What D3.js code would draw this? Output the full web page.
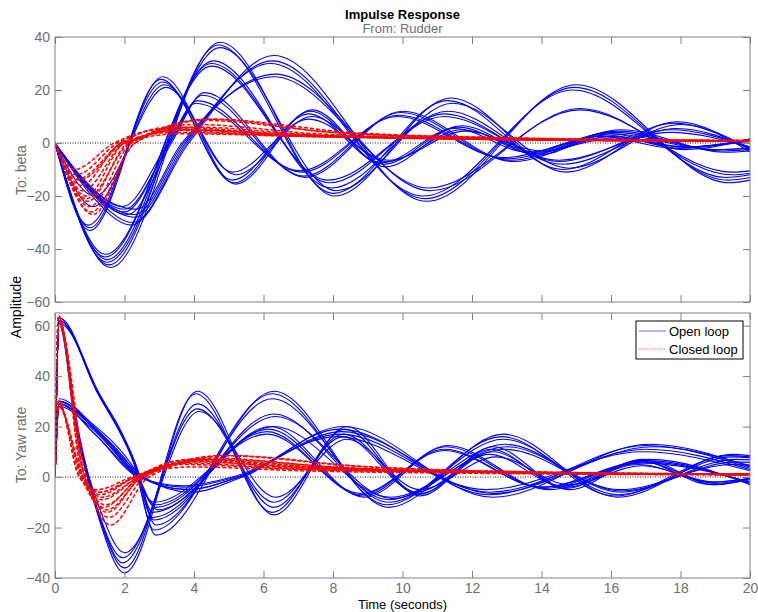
<!DOCTYPE html>
<html><head><meta charset="utf-8">
<script src="https://cdn.jsdelivr.net/npm/d3@7"></script>
<style>body{margin:0;background:#fff} text{font-family:"Liberation Sans",Arial,Helvetica,sans-serif}</style>
</head><body><svg id="c" width="758" height="612"></svg>
<script>
// ---- tick labels ----
const timeTicks = [0,2,4,6,8,10,12,14,16,18,20];
const betaTicks = [-60,-40,-20,0,20,40];
const yawTicks = [-40,-20,0,20,40,60];

// ---- To: beta, open loop (extrema [time, amplitude]) ----
const betaOpenP = [
 [[0,0],[1.0,-33],[3.1,25],[5.2,-15.5],[7.4,12.5],[9.5,-9],[11.7,6.5],[13.9,-4.5],[16.0,3.5],[18.1,-2.5],[20,1.5]],
 [[0,0],[1.0,-32],[3.05,24],[5.15,-15],[7.35,12],[9.45,-8],[11.6,6],[13.8,-4],[15.9,3],[18.0,-2],[20,1.3]],
 [[0,0],[0.95,-31],[3.1,23],[5.1,-14],[7.3,11],[9.4,-7.5],[11.5,5.5],[13.6,-3.5],[15.7,2.5],[17.8,-2],[20,1.5]],
 [[0,0],[1.1,-24],[3.15,22],[5.2,-12],[7.4,10],[9.55,-7],[11.7,5],[13.9,-3.5],[16.0,2.5],[18.1,-1.5],[20,1]],
 [[0,0],[1.15,-20],[3.2,21],[5.1,-11],[7.3,9],[9.6,-6.5],[11.8,4.5],[14.0,-3],[16.1,2],[18.2,-1.5],[20,0.8]]
];
const betaOpenQ = [
 [[0,0],[1.6,-47],[4.75,38],[8.05,-20],[11.4,17],[14.7,-11],[17.9,8],[20,-3.4]],
 [[0,0],[1.55,-46],[4.7,37],[8.0,-19],[11.3,16],[14.6,-10],[17.8,7.5],[20,-2.5]],
 [[0,0],[1.5,-45],[4.75,36],[8.1,-18],[11.45,15],[14.8,-9.5],[18.0,7],[20,-2]],
 [[0,0],[1.5,-44],[4.55,31],[7.95,-17],[11.3,12],[14.6,-8],[17.9,5.5],[20,-2]],
 [[0,0],[1.45,-43],[4.5,30],[7.9,-15],[11.2,11],[14.5,-7],[17.7,5],[20,-1.5]],
 [[0,0],[1.45,-42],[4.5,29],[7.85,-14],[11.2,10],[14.5,-6.5],[17.7,4],[20,-1.5]]
];
const betaOpenR = [
 [[0,0],[1.0,-19],[2.2,-31],[3.85,0],[6.3,33],[10.7,-22],[15.0,22],[19.4,-15],[20,-14]],
 [[0,0],[1.0,-18],[2.25,-30],[3.8,0],[6.25,31],[10.65,-21],[14.95,21],[19.35,-14],[20,-13]],
 [[0,0],[1.0,-18],[2.3,-28],[3.75,0],[6.2,30],[10.6,-20],[14.9,20],[19.3,-13],[20,-12]],
 [[0,0],[0.95,-17],[2.3,-27],[3.7,0],[6.35,26],[10.8,-18],[15.1,13],[19.5,-12],[20,-11.5]],
 [[0,0],[0.95,-16],[2.35,-25],[3.65,0],[6.3,25],[10.75,-17],[15.1,12.5],[19.5,-11],[20,-10.5]]
];
const betaOpenS = [
 [[0,0],[0.9,-16],[2.1,-27],[3.35,0],[4.3,19],[7.2,-13],[10.0,12],[13.2,-7],[16.3,5],[19.3,-3.5],[20,-3]],
 [[0,0],[0.9,-15],[2.0,-26],[3.3,0],[4.25,18],[7.15,-12.5],[9.95,11.5],[13.1,-6.5],[16.2,4.5],[19.2,-3],[20,-2.5]],
 [[0,0],[0.85,-15],[2.0,-25],[3.3,0],[4.1,16],[7.1,-11],[9.9,10.5],[13.0,-6],[16.1,4],[19.1,-2.5],[20,-2]],
 [[0,0],[0.85,-14],[1.95,-24],[3.25,0],[4.05,15],[7.05,-10.5],[9.85,10],[12.9,-5.5],[16.0,3.5],[19.0,-2.5],[20,-2]]
];
// ---- To: beta, closed loop ----
const betaClosed = [
 [[0,0],[0.55,-10],[1.7,0],[3.0,5],[6,3],[10,1.8],[15,1],[20,0.6]],
 [[0,0],[0.6,-12],[1.8,0],[3.2,5.5],[6.5,3],[10,2],[15,1.2],[20,0.7]],
 [[0,0],[0.65,-13.5],[1.9,0],[3.3,6],[6.5,3.5],[10,2],[15,1.2],[20,0.8]],
 [[0,0],[0.7,-14],[2.0,0],[3.6,3.5],[7,2.5],[12,1.5],[20,0.6]],
 [[0,0],[0.9,-20],[2.0,0],[3.8,5],[7,3],[12,1.5],[20,0.7]],
 [[0,0],[0.95,-22],[2.1,0],[4.0,6],[7.5,3],[12,1.6],[20,0.8]],
 [[0,0],[1.0,-24],[2.2,0],[4.3,8.5],[8,4],[12,2],[20,0.8]],
 [[0,0],[1.05,-26],[2.3,0],[4.4,9],[8,4],[12,2.2],[20,0.9]],
 [[0,0],[1.1,-27],[2.3,0],[4.5,9],[8.5,4],[13,2],[20,1]],
 [[0,0],[0.8,-18],[2.0,0],[3.7,5],[7,3],[12,1.6],[20,0.7]],
 [[0,0],[0.75,-16],[1.9,0],[3.4,4],[7,2.6],[12,1.4],[20,0.6]],
 [[0,0],[0.9,-21],[2.15,0],[4.0,7],[7.5,3.5],[12,1.8],[20,0.8]]
];

// ---- To: Yaw rate, open loop ----
const yawOpenP = [
 [[0,0],[0.12,63],[0.6,22],[1.3,-18],[2.0,-38],[4.1,34],[6.3,-15],[8.4,20],[10.5,-7.5],[12.6,12],[14.8,-5],[16.9,7],[19.0,-3],[20,-0.5]],
 [[0,0],[0.12,62],[0.6,21],[1.3,-17],[2.0,-36],[4.05,33],[6.25,-14],[8.35,19],[10.45,-7],[12.55,11],[14.7,-4.5],[16.8,6.5],[18.9,-3],[20,-1]],
 [[0,0],[0.12,62],[0.65,20],[1.3,-16],[1.95,-34],[4.1,29],[6.3,-12],[8.3,17],[10.5,-6.5],[12.6,10],[14.7,-4],[16.9,6],[19.0,-2.5],[20,-0.5]],
 [[0,0],[0.12,61],[0.6,19],[1.25,-14],[1.95,-32],[4.1,27],[6.3,-10],[8.3,16],[10.4,-6],[12.5,9],[14.6,-3.5],[16.8,5],[18.9,-2],[20,-0.5]],
 [[0,0],[0.12,61],[0.65,18],[1.3,-13],[2.0,-30],[4.15,26],[6.35,-8],[8.4,15],[10.5,-5],[12.7,8],[14.8,-3],[16.9,4.5],[19.0,-2],[20,-0.5]]
];
const yawOpenQ = [
 [[0,0],[0.12,63],[1.2,35],[2.25,7],[2.9,-23],[6.3,34],[9.6,-12],[12.9,17],[16.2,-8],[19.5,9],[20,8.5]],
 [[0,0],[0.12,63],[1.2,34],[2.25,6],[2.85,-21],[6.25,33],[9.55,-11],[12.85,16],[16.1,-7.5],[19.4,8.5],[20,8]],
 [[0,0],[0.12,62],[1.2,34],[2.3,6],[2.9,-19],[6.25,31],[9.6,-10],[12.9,15],[16.2,-7],[19.5,8],[20,7.7]],
 [[0,0],[0.12,62],[1.25,33],[2.3,5],[2.85,-17],[6.3,25],[9.6,-9],[12.95,13],[16.3,-6],[19.6,7],[20,6.8]],
 [[0,0],[0.12,62],[1.25,33],[2.3,5],[2.8,-16],[6.35,24],[9.7,-8.5],[13.0,12],[16.3,-5.5],[19.6,6],[20,5.8]],
 [[0,0],[0.12,61],[1.3,32],[2.35,4],[2.8,-14],[6.3,20],[9.65,-8],[12.95,11],[16.25,-5],[19.5,5],[20,4.8]]
];
const yawOpenR = [
 [[0,0],[0.12,31],[1.2,19],[2.55,0],[3.9,-6],[5.4,0],[8.3,20],[12.6,-8],[17.1,13],[20,4]],
 [[0,0],[0.12,30],[1.2,18],[2.5,0],[3.8,-5],[5.3,0],[8.2,19],[12.5,-7],[17.0,12.5],[20,3.5]],
 [[0,0],[0.12,30],[1.2,18],[2.45,0],[3.8,-5],[5.3,0],[8.25,18],[12.6,-6.5],[17.2,12],[20,4.5]],
 [[0,0],[0.12,29],[1.15,17],[2.45,0],[3.7,-4],[5.2,0],[8.2,17],[12.5,-6],[17.0,11],[20,3]],
 [[0,0],[0.12,29],[1.15,17],[2.4,0],[3.7,-3.5],[5.1,0],[8.1,16],[12.4,-5],[16.9,10],[20,2.5]]
];
const yawOpenS = [
 [[0,0],[0.12,30],[1.0,22],[2.3,3],[2.95,-13],[6.2,20],[8.9,-8],[11.3,12.5],[14.2,-5],[17.1,7],[20,-3]],
 [[0,0],[0.12,30],[1.0,21],[2.3,2],[2.9,-12],[6.15,19],[8.85,-7.5],[11.25,12],[14.1,-4.5],[17.0,6.5],[20,-2.5]],
 [[0,0],[0.12,29],[1.0,21],[2.25,2],[2.9,-11],[6.1,18],[8.8,-7],[11.2,11],[14.0,-4],[16.9,6],[20,-2]],
 [[0,0],[0.12,28],[1.0,20],[2.25,1],[2.85,-10],[6.1,17],[8.8,-6.5],[11.2,10.5],[14.0,-4],[16.9,5.5],[20,-2]]
];
// ---- To: Yaw rate, closed loop ----
const yawClosed = [
 [[0,0],[0.1,64],[0.8,0],[1.3,-6],[2.3,0],[3.6,6.5],[7,3.5],[12,2],[20,1]],
 [[0,0],[0.1,63],[0.8,0],[1.35,-8],[2.4,0],[3.8,7],[7,4],[12,2],[20,1]],
 [[0,0],[0.1,63],[0.85,0],[1.5,-13],[2.5,0],[4.5,7.5],[8,4],[13,2],[20,1.1]],
 [[0,0],[0.1,62],[0.85,0],[1.55,-16],[2.6,0],[4.8,8.5],[8.5,4.5],[13,2.2],[20,1.2]],
 [[0,0],[0.1,62],[0.9,0],[1.6,-19],[2.7,0],[5.0,8.5],[9,4],[14,2],[20,1.2]],
 [[0,0],[0.1,61],[0.85,0],[1.45,-11],[2.45,0],[4.2,7],[8,3.5],[13,1.8],[20,1]],
 [[0,0],[0.1,30],[0.7,0],[1.2,-5],[2.2,0],[3.5,5],[7,3],[12,1.8],[20,0.9]],
 [[0,0],[0.1,30],[0.7,0],[1.25,-6],[2.3,0],[3.7,5.5],[7,3.2],[12,2],[20,1]],
 [[0,0],[0.1,29],[0.75,0],[1.35,-9],[2.4,0],[4.0,6],[7.5,3.5],[12,2],[20,1]],
 [[0,0],[0.1,29],[0.75,0],[1.4,-12],[2.45,0],[4.3,6.5],[8,3.5],[13,2],[20,1]],
 [[0,0],[0.1,28],[0.8,0],[1.3,-7],[2.3,0],[3.9,4],[7,2.5],[12,1.5],[20,0.8]],
 [[0,0],[0.1,28],[0.8,0],[1.5,-14],[2.5,0],[4.6,7],[8.5,3.5],[13,1.8],[20,1]]
];

const svg = d3.select('#c');
const GRAY = '#808080';
const x = d3.scaleLinear().domain([0,20]).range([55,750]);
const yTop = d3.scaleLinear().domain([-60,40]).range([302,37]);
const yBot = d3.scaleLinear().domain([-40,65]).range([578,313]);

const panels = [
  {y: yTop, ticks: betaTicks, open: [...betaOpenP,...betaOpenQ,...betaOpenR,...betaOpenS], closed: betaClosed, id:'t', xlabels:false},
  {y: yBot, ticks: yawTicks, open: [...yawOpenP,...yawOpenQ,...yawOpenR,...yawOpenS], closed: yawClosed, id:'b', xlabels:true}
];

const defs = svg.append('defs');
panels.forEach(p => {
  defs.append('clipPath').attr('id','clip'+p.id).append('rect')
    .attr('x',55).attr('y',p.y.range()[1]).attr('width',695).attr('height',p.y.range()[0]-p.y.range()[1]);
});

// zero lines
panels.forEach(p => {
  svg.append('line').attr('x1',x(0)).attr('x2',x(20)).attr('y1',p.y(0)).attr('y2',p.y(0))
    .attr('stroke','#000').attr('stroke-width',0.9).attr('stroke-dasharray','1,1.5');
});

// open loop (blue)
panels.forEach(p => {
  const line = d3.line().x(d=>x(d[0])).y(d=>p.y(d[1])).curve(d3.curveMonotoneX);
  svg.append('g').attr('clip-path','url(#clip'+p.id+')')
    .selectAll('path').data(p.open).join('path')
    .attr('d', line).attr('fill','none').attr('stroke','#0000ff').attr('stroke-width',1.1);
});
// closed loop (red dashed)
panels.forEach(p => {
  const line = d3.line().x(d=>x(d[0])).y(d=>p.y(d[1])).curve(d3.curveMonotoneX);
  svg.append('g').attr('clip-path','url(#clip'+p.id+')')
    .selectAll('path').data(p.closed).join('path')
    .attr('d', line).attr('fill','none').attr('stroke','#ff0000').attr('stroke-width',1.5)
    .attr('stroke-dasharray','4,2');
});

// axes
panels.forEach(p => {
  const [y0,y1] = p.y.range();
  const gl = svg.append('g').attr('transform','translate(55,0)')
    .call(d3.axisLeft(p.y).tickValues(p.ticks).tickSize(-7).tickPadding(5));
  const gr = svg.append('g').attr('transform','translate(750,0)')
    .call(d3.axisRight(p.y).tickValues(p.ticks).tickSize(-7).tickFormat(''));
  const gt = svg.append('g').attr('transform','translate(0,'+y1+')')
    .call(d3.axisTop(x).tickValues(timeTicks).tickSize(-7).tickFormat(''));
  const gb = svg.append('g').attr('transform','translate(0,'+y0+')')
    .call(d3.axisBottom(x).tickValues(timeTicks).tickSize(-7).tickPadding(5).tickFormat(p.xlabels ? d3.format('d') : ''));
  [gl,gr,gt,gb].forEach(g => {
    g.select('.domain').remove();
    g.selectAll('.tick line').attr('stroke',GRAY);
    g.selectAll('.tick text').attr('fill','#6f6f6f').style('font-size','14px')
      .style('font-family','"Liberation Sans",Arial,sans-serif');
  });
  svg.append('rect').attr('x',55).attr('y',y1).attr('width',695).attr('height',y0-y1)
    .attr('fill','none').attr('stroke',GRAY).attr('stroke-width',1);
});

// titles & labels
svg.append('text').attr('x',402.5).attr('y',19).attr('text-anchor','middle')
  .style('font-size','13px').style('font-weight','bold').attr('fill','#000').text('Impulse Response');
svg.append('text').attr('x',402.5).attr('y',33).attr('text-anchor','middle')
  .style('font-size','13px').attr('fill','#6f6f6f').text('From: Rudder');
svg.append('text').attr('x',402.5).attr('y',609).attr('text-anchor','middle')
  .style('font-size','13px').attr('fill','#000').text('Time (seconds)');
svg.append('text').attr('transform','translate(21,307) rotate(-90)').attr('text-anchor','middle')
  .style('font-size','14px').attr('fill','#000').text('Amplitude');
svg.append('text').attr('transform','translate(26,170) rotate(-90)').attr('text-anchor','middle')
  .style('font-size','14px').attr('fill','#6f6f6f').text('To: beta');
svg.append('text').attr('transform','translate(26,445) rotate(-90)').attr('text-anchor','middle')
  .style('font-size','14px').attr('fill','#6f6f6f').text('To: Yaw rate');

// legend
const lg = svg.append('g');
lg.append('rect').attr('x',636).attr('y',321).attr('width',107).attr('height',38)
  .attr('fill','#fff').attr('stroke','#000').attr('stroke-width',1);
lg.append('line').attr('x1',639).attr('x2',666).attr('y1',331).attr('y2',331)
  .attr('stroke','#6666ff').attr('stroke-width',1);
lg.append('line').attr('x1',639).attr('x2',666).attr('y1',349).attr('y2',349)
  .attr('stroke','#ff6666').attr('stroke-width',1).attr('stroke-dasharray','1.5,1');
lg.append('text').attr('x',669).attr('y',336).style('font-size','13px').attr('fill','#000').text('Open loop');
lg.append('text').attr('x',669).attr('y',354).style('font-size','13px').attr('fill','#000').text('Closed loop');
</script></body></html>
